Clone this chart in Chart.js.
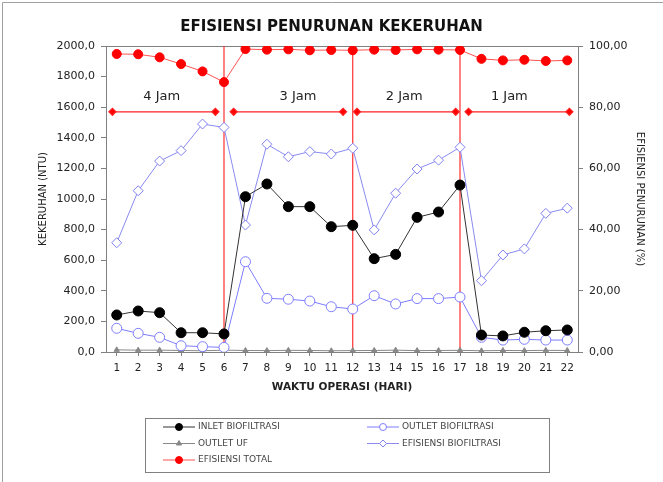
<!DOCTYPE html>
<html>
<head>
<meta charset="utf-8">
<title>Efisiensi Penurunan Kekeruhan</title>
<script src="https://cdn.jsdelivr.net/npm/chart.js@4.4.1/dist/chart.umd.min.js"></script>
<style>
  html, body { margin: 0; padding: 0; background: #fff; }
  canvas { display: block; }
</style>
</head>
<body>
<canvas id="chart" width="663" height="482"></canvas>
<script>
// hari operasi
const days = [1, 2, 3, 4, 5, 6, 7, 8, 9, 10, 11, 12, 13, 14, 15, 16, 17, 18, 19, 20, 21, 22];

// kekeruhan (NTU)
const inletBiofiltrasi = [242, 268, 257, 126, 126, 118, 1015, 1098, 950, 950, 819, 828, 610, 638, 880, 915, 1091, 111, 105, 129, 139, 144];
const outletBiofiltrasi = [155, 122, 96, 41, 35, 30, 590, 351, 345, 333, 296, 281, 368, 314, 349, 349, 359, 96, 78, 83, 78, 78];
const outletUF = [14, 12, 12, 10, 8, 12, 10, 9, 11, 10, 8, 9, 10, 12, 9, 10, 11, 8, 10, 9, 11, 10];

// efisiensi (%)
const efisiensiBiofiltrasi = [35.7, 52.7, 62.4, 65.8, 74.5, 73.4, 41.5, 67.9, 63.8, 65.5, 64.7, 66.6, 39.9, 51.9, 59.8, 62.7, 66.9, 23.3, 31.7, 33.7, 45.3, 47.0];
const efisiensiTotal = [97.4, 97.3, 96.3, 94.1, 91.7, 88.2, 99.0, 98.8, 98.9, 98.6, 98.7, 98.6, 98.8, 98.7, 98.9, 98.8, 98.7, 95.8, 95.3, 95.5, 95.1, 95.3];

// waktu tinggal per periode
const phaseLabels = ['4 Jam', '3 Jam', '2 Jam', '1 Jam'];
const phaseLabelDays = [3.1, 9.45, 14.4, 19.3];
const phaseSpans = [[0.8, 5.6], [6.45, 11.55], [12.2, 16.8], [17.4, 22.1]];
const phaseBreaks = [6, 12, 17];
const phaseLevel = 78.5;
const phaseLabelLevel = 83.5;

const FONT = '"DejaVu Sans", sans-serif';

const pts = vals => days.map((d, i) => ({x: d, y: vals[i]}));

const series = [
    {label: 'INLET BIOFILTRASI', data: pts(inletBiofiltrasi), yAxisID: 'y',
     borderColor: '#333', backgroundColor: '#000', pointBorderColor: '#000',
     pointStyle: 'circle', pointRadius: 5, borderWidth: 1},
    {label: 'OUTLET BIOFILTRASI', data: pts(outletBiofiltrasi), yAxisID: 'y',
     borderColor: '#7d7dff', backgroundColor: '#fff', pointBorderColor: '#7d7dff',
     pointStyle: 'circle', pointRadius: 5, borderWidth: 1},
    {label: 'OUTLET UF', data: pts(outletUF), yAxisID: 'y',
     borderColor: '#888', backgroundColor: '#888', pointBorderColor: '#888',
     pointStyle: 'triangle', pointRadius: 3, borderWidth: 1},
    {label: 'EFISIENSI BIOFILTRASI', data: pts(efisiensiBiofiltrasi), yAxisID: 'y2',
     borderColor: '#8a8af0', backgroundColor: '#fff', pointBorderColor: '#8080f0',
     pointStyle: 'rectRot', pointRadius: 5, borderWidth: 1},
    {label: 'EFISIENSI TOTAL', data: pts(efisiensiTotal), yAxisID: 'y2',
     borderColor: '#ff5050', backgroundColor: '#ff0000', pointBorderColor: '#ff0000',
     pointStyle: 'circle', pointRadius: 4.5, borderWidth: 1}
];

const breakLines = phaseBreaks.map(d => ({
    data: [{x: d, y: 0}, {x: d, y: 2000}], yAxisID: 'y',
    borderColor: '#ff3030', borderWidth: 1.2, pointRadius: 0
}));

const spanLines = phaseSpans.map(s => ({
    data: [{x: s[0], y: phaseLevel}, {x: s[1], y: phaseLevel}], yAxisID: 'y2',
    borderColor: '#ff2020', backgroundColor: '#ff0000', borderWidth: 1.2,
    pointStyle: 'rectRot', pointRadius: 3.5
}));

const frame = {
    id: 'frame',
    beforeDraw(chart) {
        const {ctx, chartArea: a} = chart;
        ctx.save();
        ctx.strokeStyle = '#a0a0a0';
        ctx.lineWidth = 1;
        ctx.beginPath();
        ctx.moveTo(2.5, chart.height);
        ctx.lineTo(2.5, 2.5);
        ctx.lineTo(chart.width, 2.5);
        ctx.stroke();
        ctx.strokeStyle = '#808080';
        ctx.strokeRect(Math.round(a.left) + 0.5, Math.round(a.top) + 0.5,
            Math.round(a.right - a.left), Math.round(a.bottom - a.top));
        ctx.restore();
    }
};

const phaseText = {
    id: 'phaseText',
    afterDatasetsDraw(chart) {
        const {ctx, scales} = chart;
        ctx.save();
        ctx.font = '13px ' + FONT;
        ctx.fillStyle = '#222';
        ctx.textAlign = 'center';
        ctx.textBaseline = 'middle';
        phaseLabels.forEach((t, i) => {
            ctx.fillText(t, scales.x.getPixelForValue(phaseLabelDays[i]), scales.y2.getPixelForValue(phaseLabelLevel));
        });
        ctx.restore();
    }
};

const legendBox = {
    id: 'legendBox',
    afterDraw(chart) {
        const ctx = chart.ctx;
        ctx.save();
        ctx.strokeStyle = '#808080';
        ctx.lineWidth = 1;
        ctx.strokeRect(145.5, 418.5, 404, 54);
        ctx.font = '9px ' + FONT;
        ctx.textBaseline = 'middle';
        ctx.textAlign = 'left';
        series.forEach((s, i) => {
            const x0 = i % 2 ? 367 : 163;
            const y0 = 427 + Math.floor(i / 2) * 16.5;
            ctx.strokeStyle = s.borderColor;
            ctx.beginPath();
            ctx.moveTo(x0, y0);
            ctx.lineTo(x0 + 32, y0);
            ctx.stroke();
            ctx.fillStyle = s.backgroundColor;
            ctx.strokeStyle = s.pointBorderColor;
            Chart.helpers.drawPoint(ctx, {pointStyle: s.pointStyle, radius: Math.min(s.pointRadius, 3.5), borderWidth: 1, rotation: 0}, x0 + 16, y0);
            ctx.fillStyle = '#444';
            ctx.fillText(s.label, x0 + 35, y0);
        });
        ctx.restore();
    }
};

const tickFont = {family: FONT, size: 11};
const titleFont = {family: FONT, size: 10};

new Chart(document.getElementById('chart'), {
    type: 'line',
    data: {datasets: [...series, ...breakLines, ...spanLines]},
    plugins: [frame, phaseText, legendBox],
    options: {
        responsive: false,
        animation: false,
        layout: {padding: {left: 0, right: 0, top: 0, bottom: 85}},
        plugins: {
            legend: {display: false},
            tooltip: {enabled: false},
            title: {
                display: true,
                text: 'EFISIENSI PENURUNAN KEKERUHAN',
                color: '#111',
                font: {family: FONT, size: 15, weight: 'bold'},
                padding: {top: 18, bottom: 10}
            }
        },
        scales: {
            x: {
                type: 'linear',
                min: 0.5,
                max: 22.5,
                afterBuildTicks: axis => { axis.ticks = days.map(v => ({value: v})); },
                afterFit: axis => { axis.height = 45; },
                grid: {drawOnChartArea: false, tickLength: 4, color: '#808080'},
                border: {color: '#808080'},
                ticks: {font: {family: FONT, size: 10.5}, color: '#222', padding: 6, maxRotation: 0, autoSkip: false},
                title: {display: true, text: 'WAKTU OPERASI (HARI)', color: '#222',
                        font: {family: FONT, size: 10.5, weight: 'bold'}, padding: {top: 0, bottom: 3}}
            },
            y: {
                position: 'left',
                min: 0,
                max: 2000,
                afterFit: axis => { axis.width = 106; },
                grid: {drawOnChartArea: false, tickLength: 5, color: '#808080'},
                border: {color: '#808080'},
                ticks: {stepSize: 200, font: tickFont, color: '#222', padding: 6,
                        callback: v => v.toFixed(1).replace('.', ',')},
                title: {display: true, text: 'KEKERUHAN (NTU)', color: '#222', font: titleFont,
                        padding: {top: 37, bottom: 0}}
            },
            y2: {
                position: 'right',
                min: 0,
                max: 100,
                afterFit: axis => { axis.width = 85; },
                grid: {drawOnChartArea: false, tickLength: 5, color: '#808080'},
                border: {color: '#808080'},
                ticks: {stepSize: 20, font: tickFont, color: '#222', padding: 6,
                        callback: v => v.toFixed(2).replace('.', ',')},
                title: {display: true, text: 'EFISIENSI PENURUNAN (%)', color: '#222', font: titleFont,
                        padding: {top: 17, bottom: 0}}
            }
        }
    }
});
</script>
</body>
</html>
